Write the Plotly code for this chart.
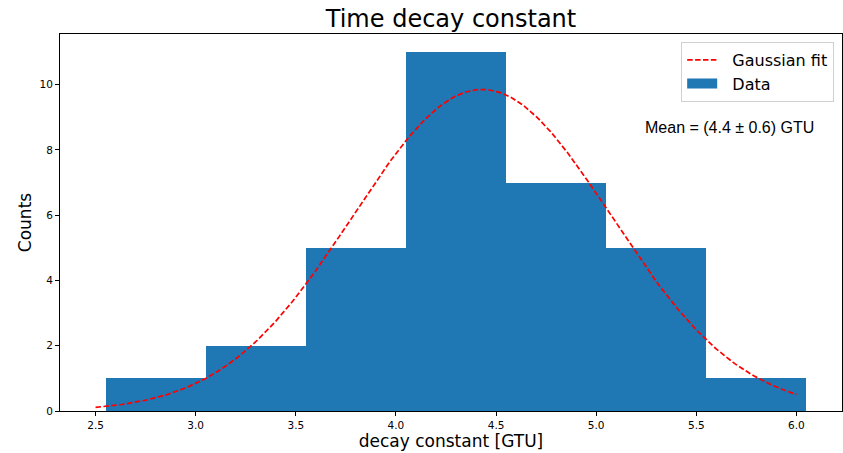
import numpy as np
import plotly.graph_objects as go

# Histogram of measured decay constants (bin edges and counts)
bin_edges = [2.55, 3.05, 3.55, 4.05, 4.55, 5.05, 5.55, 6.05]
counts = [1, 2, 5, 11, 7, 5, 1]

# Gaussian fit parameters
fit_amplitude = 9.85
fit_mean = 4.43
fit_sigma = 0.645
fit_range = [2.5, 6.0]

x_ticks = [2.5, 3.0, 3.5, 4.0, 4.5, 5.0, 5.5, 6.0]
y_ticks = [0, 2, 4, 6, 8, 10]

edges = np.array(bin_edges)
centers = (edges[:-1] + edges[1:]) / 2
widths = np.diff(edges)

xf = np.linspace(fit_range[0], fit_range[1], 300)
yf = fit_amplitude * np.exp(-((xf - fit_mean) ** 2) / (2 * fit_sigma ** 2))

font = "DejaVu Sans"
bar_color = "#1f77b4"
pad = "\u00a0\u00a0"  # extra gap between legend swatch and label

fig = go.Figure()
fig.add_trace(go.Bar(
    x=centers, y=counts, width=widths, name="Data",
    marker=dict(color=bar_color, line=dict(width=0)),
    showlegend=False,
))
fig.add_trace(go.Scatter(
    x=xf, y=yf, mode="lines", name=pad + "Gaussian fit",
    line=dict(color="red", dash="5.5px,2.4px", width=1.7),
    legendrank=1,
))
# legend swatch for the histogram: a wide filled rectangle
fig.add_trace(go.Scatter(
    x=[None], y=[None], mode="lines", name=pad + "Data",
    line=dict(color=bar_color, width=10),
    legendrank=2, hoverinfo="skip",
))

fig.add_annotation(
    text="Mean = (4.4 \u00b1 0.6) GTU",
    xref="paper", yref="paper", x=0.7455, y=0.753,
    xanchor="left", yanchor="middle", showarrow=False,
    font=dict(family="Liberation Sans", size=16, color="black"),
)

fig.update_layout(
    width=843, height=453,
    margin=dict(l=60, r=1, t=34, b=42),
    paper_bgcolor="white", plot_bgcolor="white",
    bargap=0,
    title=dict(text="Time decay constant", x=0.5, xref="paper", xanchor="center",
               y=0.96, yanchor="middle",
               font=dict(family=font, size=24, color="black")),
    legend=dict(
        x=0.99, y=0.979, xanchor="right", yanchor="top",
        bgcolor="white", bordercolor="#d0d0d0", borderwidth=1,
        font=dict(family=font, size=16, color="black"),
        traceorder="normal",
    ),
    showlegend=True,
)

fig.update_xaxes(
    range=[2.3225, 6.2275], tickvals=x_ticks, ticktext=[f"{v:.1f}" for v in x_ticks],
    showgrid=False, zeroline=False,
    showline=True, linecolor="black", linewidth=1, mirror=True,
    ticks="outside", ticklen=4, tickcolor="black",
    tickfont=dict(family=font, size=10.5, color="black"),
    title=dict(text="decay constant [GTU]", font=dict(family=font, size=17, color="black"),
               standoff=4),
)
fig.update_yaxes(
    range=[0, 11.55], tickvals=y_ticks,
    showgrid=False, zeroline=False,
    showline=True, linecolor="black", linewidth=1, mirror=True,
    ticks="outside", ticklen=4, tickcolor="black",
    tickfont=dict(family=font, size=10.5, color="black"),
    title=dict(text="Counts", font=dict(family=font, size=17, color="black"),
               standoff=3),
)

fig.write_html("out.html")
